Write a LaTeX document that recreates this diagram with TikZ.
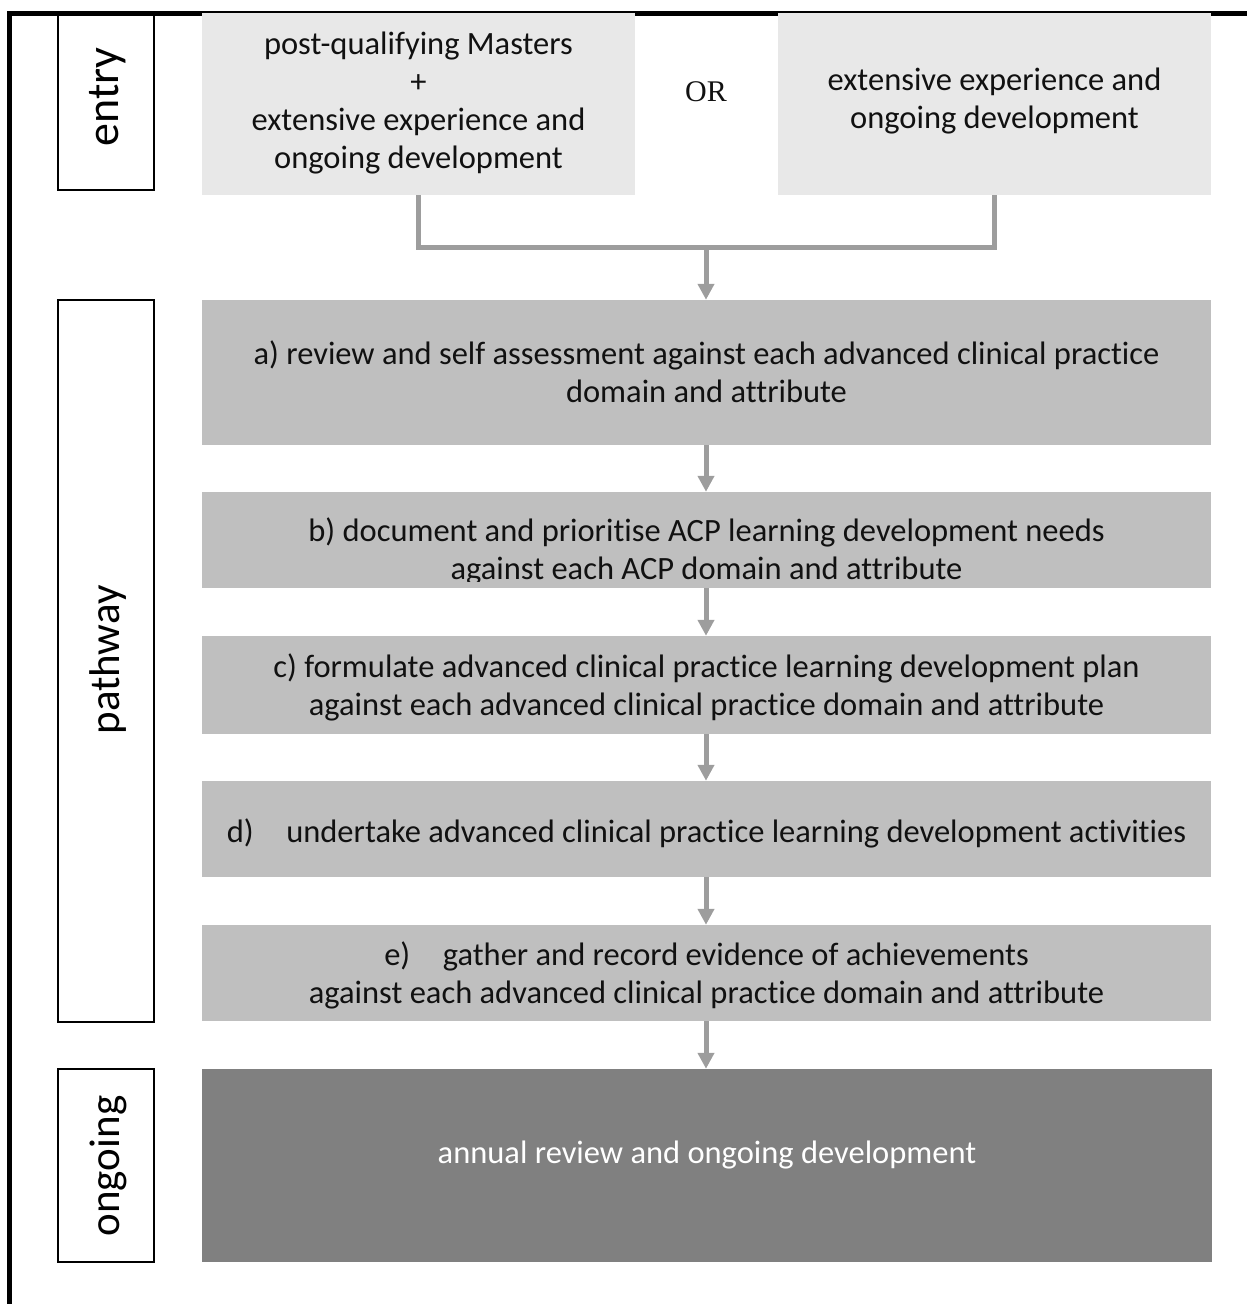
\documentclass[tikz,border=0pt]{standalone}
\usepackage{fontspec}
\setmainfont[Ligatures={NoCommon}]{Carlito}
\newfontfamily\orfont{Liberation Serif}
\usetikzlibrary{arrows.meta}
\definecolor{topgray}{HTML}{E8E8E8}
\definecolor{midgray}{HTML}{BFBFBF}
\definecolor{darkgray}{HTML}{808080}
\definecolor{conngray}{HTML}{9D9D9D}
\definecolor{txt}{HTML}{111111}
\begin{document}
\begin{tikzpicture}[x=1pt,y=-1pt,
  frameline/.style={draw=black, line width=5pt},
  labelbox/.style={draw=black, line width=1.6pt, fill=white, inner sep=0pt, minimum width=96pt},
  labeltext/.style={rotate=90, text=black, font=\fontsize{43}{43}\selectfont},
  topbox/.style={fill=topgray, inner sep=0pt, minimum width=433pt, minimum height=182pt},
  stepbox/.style={fill=midgray, inner sep=0pt, minimum width=1009pt},
  endbox/.style={fill=darkgray, inner sep=0pt, minimum width=1010pt, minimum height=193pt},
  bodytext/.style={align=center, text=txt, inner sep=0pt, font=\fontsize{32.5}{38}\selectfont},
  conn/.style={draw=conngray, line width=5pt, line join=miter},
  arr/.style={conn, -{Triangle[length=16pt,width=16pt]}}
]
\useasboundingbox (0,0) rectangle (1247,1304);
% frame
\draw[frameline] (9.5,1304) -- (9.5,13) -- (1247,13);

% side labels
\node[labelbox, minimum height=175pt] (lentry) at (106,102.5) {};
\node[labeltext, font=\fontsize{46}{46}\selectfont] (tentry) at (108,97) {entry};
\node[labelbox, minimum height=722pt] (lpath) at (106,661) {};
\node[labeltext] (tpath) at (108,660) {pathway};
\node[labelbox, minimum height=193pt] (long) at (106,1165.5) {};
\node[labeltext] (tlong) at (108,1166) {ongoing};

% entry boxes
\node[topbox] (tl) at (418.5,104) {};
\node[bodytext] (ttl) at (418.5,103) {post-qualifying Masters\\+\\extensive experience and\\ongoing development};
\node[topbox] (tr) at (994.5,104) {};
\node[bodytext] (ttr) at (994.5,101) {extensive experience and\\ongoing development};
\node[text=txt, font=\orfont\fontsize{30}{30}\selectfont] (or) at (706,92) {OR};

% steps
\node[stepbox, minimum height=145pt] (a) at (706.5,372.5) {};
\node[bodytext] (ta) at (706.5,372) {a) review and self assessment against each advanced clinical practice\\domain and attribute};
\node[stepbox, minimum height=96pt] (b) at (706.5,540) {};
\begin{scope}
\clip (202,492) rectangle (1211,581);
\node[bodytext] (tb) at (706.5,551) {b) document and prioritise ACP learning development needs\\against each ACP domain and attribute};
\end{scope}
\node[stepbox, minimum height=98pt] (c) at (706.5,685) {};
\node[bodytext] (tc) at (706.5,687) {c) formulate advanced clinical practice learning development plan\\against each advanced clinical practice domain and attribute};
\node[stepbox, minimum height=96pt] (d) at (706.5,829) {};
\node[bodytext] (td) at (706.5,833) {d)\quad undertake advanced clinical practice learning development activities};
\node[stepbox, minimum height=96pt] (e) at (706.5,973) {};
\node[bodytext] (te) at (706.5,975) {e)\quad gather and record evidence of achievements\\against each advanced clinical practice domain and attribute};
\node[endbox] (f) at (707,1165.5) {};
\node[bodytext, text=white] (tf) at (707,1155) {annual review and ongoing development};

% connectors
\coordinate (j) at (706,247.5);
\draw[conn] (tl.south) |- (j) -| (tr.south);
\draw[arr] (j) -- (j |- a.north);
\draw[arr] (a.south -| j) -- (b.north -| j);
\draw[arr] (b.south -| j) -- (c.north -| j);
\draw[arr] (c.south -| j) -- (d.north -| j);
\draw[arr] (d.south -| j) -- (e.north -| j);
\draw[arr] (e.south -| j) -- (f.north -| j);
\end{tikzpicture}
\end{document}
